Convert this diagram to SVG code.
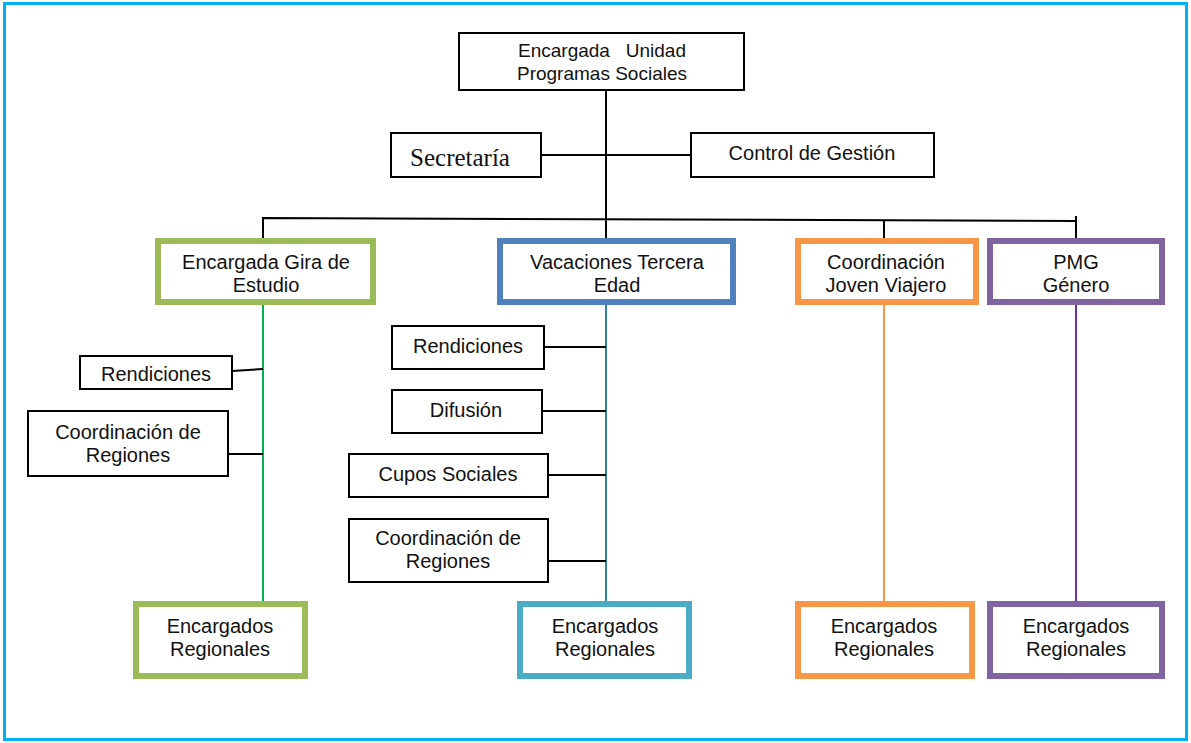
<svg xmlns="http://www.w3.org/2000/svg" width="1191" height="743" viewBox="0 0 1191 743">
<style>
text{font-family:"Liberation Sans",Arial,sans-serif;font-size:20px;fill:#111;text-anchor:middle}
.sm{font-size:19px}
.serif{font-family:"Liberation Serif","Times New Roman",serif;font-size:25px}
.b{fill:#fff;stroke:#000;stroke-width:2}
.t{fill:#fff;stroke-width:6}
.c{fill:none;stroke:#000;stroke-width:2}
.v{fill:none;stroke-width:2}
</style>
<rect x="0" y="0" width="1191" height="743" fill="#fff"/>
<rect x="4.5" y="3.5" width="1182" height="736" fill="none" stroke="#00B0F0" stroke-width="3"/>
<g id="connectors">
<path class="c" d="M606 90V220M541 155H691M263 241V218L1076 221M606 219V241M884 220V241M1076 216V241"/>
<path class="v" stroke="#00B050" d="M263 305V603"/>
<path class="c" d="M232 371L263 369M228 454H263"/>
<path class="v" stroke="#31849B" d="M606 305V603"/>
<path class="c" d="M544 347H606M542 411H606M548 475H606M548 561H606"/>
<path class="v" stroke="#F79646" d="M884 305V603"/>
<path class="v" stroke="#7030A0" d="M1076 305V603"/>
</g>
<g id="top"><rect class="b" x="459" y="33" width="285" height="57"/><text class="sm" x="602" y="57" xml:space="preserve">Encargada   Unidad</text><text class="sm" x="602" y="80">Programas Sociales</text></g>
<g id="secretaria"><rect class="b" x="391" y="133" width="150" height="44"/><text class="serif" x="460" y="166">Secretaría</text></g>
<g id="control"><rect class="b" x="691" y="133" width="243" height="44"/><text x="812" y="160">Control de Gestión</text></g>
<g id="gira"><rect class="t" stroke="#9BBB59" x="158" y="241" width="215" height="61"/><text x="266" y="269">Encargada Gira de</text><text x="266" y="292">Estudio</text></g>
<g id="vacaciones"><rect class="t" stroke="#4F81BD" x="500" y="241" width="233" height="61"/><text x="617" y="269">Vacaciones Tercera</text><text x="617" y="292">Edad</text></g>
<g id="joven"><rect class="t" stroke="#F79646" x="798" y="241" width="178" height="61"/><text x="886" y="269">Coordinación</text><text x="886" y="292">Joven Viajero</text></g>
<g id="pmg"><rect class="t" stroke="#8064A2" x="990" y="241" width="172" height="61"/><text x="1076" y="269">PMG</text><text x="1076" y="292">Género</text></g>
<g id="rend1"><rect class="b" x="80" y="356" width="152" height="33"/><text x="156" y="381">Rendiciones</text></g>
<g id="coord1"><rect class="b" x="28" y="411" width="200" height="65"/><text x="128" y="439">Coordinación de</text><text x="128" y="462">Regiones</text></g>
<g id="rend2"><rect class="b" x="392" y="326" width="152" height="43"/><text x="468" y="353">Rendiciones</text></g>
<g id="difusion"><rect class="b" x="392" y="390" width="150" height="43"/><text x="466" y="417">Difusión</text></g>
<g id="cupos"><rect class="b" x="349" y="454" width="199" height="43"/><text x="448" y="481">Cupos Sociales</text></g>
<g id="coord2"><rect class="b" x="349" y="519" width="199" height="63"/><text x="448" y="545">Coordinación de</text><text x="448" y="568">Regiones</text></g>
<g id="reg1"><rect class="t" stroke="#9BBB59" x="136" y="604" width="169" height="72"/><text x="220" y="633">Encargados</text><text x="220" y="656">Regionales</text></g>
<g id="reg2"><rect class="t" stroke="#4BACC6" x="520" y="604" width="169" height="72"/><text x="605" y="633">Encargados</text><text x="605" y="656">Regionales</text></g>
<g id="reg3"><rect class="t" stroke="#F79646" x="798" y="604" width="174" height="72"/><text x="884" y="633">Encargados</text><text x="884" y="656">Regionales</text></g>
<g id="reg4"><rect class="t" stroke="#8064A2" x="990" y="604" width="172" height="72"/><text x="1076" y="633">Encargados</text><text x="1076" y="656">Regionales</text></g>
</svg>
